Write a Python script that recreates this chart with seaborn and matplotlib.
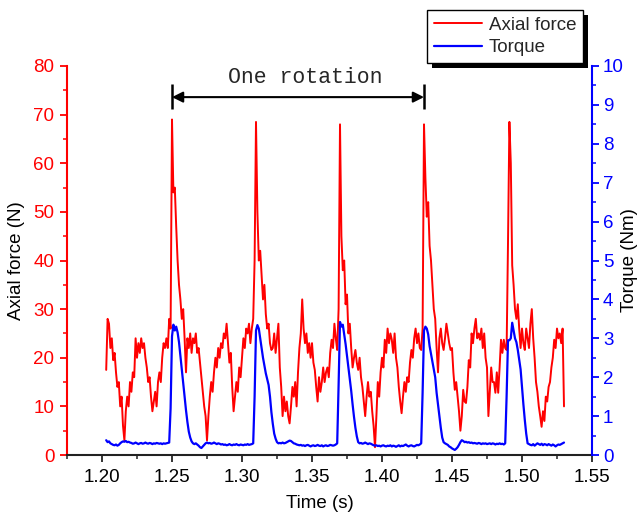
import numpy as np
import pandas as pd
import matplotlib
matplotlib.use("Agg")
import matplotlib.pyplot as plt
import seaborn as sns
from matplotlib.ticker import MultipleLocator, FormatStrFormatter
from matplotlib.patches import Rectangle

# ---------------- data ----------------
t_start = 1.203   # s, first sample
dt = 0.001        # s, sample spacing

axial_force = [
    17.5, 28, 27, 22, 24, 19.5, 21,
    17, 14, 15, 10, 12, 6, 3, 9, 12, 10,
    15, 13, 17, 16, 24, 20, 23, 21, 24, 22,
    23, 20, 18, 15, 16, 12, 9, 11, 13, 10,
    15, 17, 15, 20, 23, 22, 24, 22, 28, 26,
    69, 54, 55, 47, 40, 35, 32, 28, 30, 24,
    17, 24, 22, 25, 21, 24, 23, 25, 21, 22,
    19, 16, 13, 10, 8, 3, 8, 12, 15, 13,
    17, 20, 18, 22, 20, 23, 22, 25, 24, 27,
    23, 19, 21, 14, 9, 12, 15, 13, 18, 16,
    20, 24, 22, 26, 25, 27, 23, 26, 28, 40,
    68.5, 50, 40, 42, 37, 32, 35, 29, 26, 27,
    23, 21.6, 22, 25, 21, 24, 27, 18, 14, 8,
    12, 9, 11, 8, 6.5, 10, 14, 12, 15, 10,
    17, 22, 25, 32, 26, 23, 25, 21, 23, 20,
    23, 19, 17.5, 14, 11, 16, 13, 15, 18, 15,
    17, 18, 16, 21, 23.7, 22, 27, 24, 21.6, 30,
    68, 45, 38, 40, 31, 33, 25, 27, 22, 18,
    20, 21.6, 19, 17.5, 20, 16, 14, 11, 8, 12,
    15, 12, 13, 9, 6, 1.6, 8, 15, 12, 17,
    20, 18, 23.7, 21, 26, 23, 25, 23.7, 21, 25,
    20, 18, 14, 11, 8.6, 12, 15, 13, 16, 15,
    19, 21.6, 20, 24, 26, 23, 25, 22, 21.6, 26,
    68, 57, 49, 52, 43, 40, 35, 30, 28, 22,
    17, 24, 26, 23, 21.6, 24, 27, 25, 23, 21.6,
    22, 17, 13.4, 15, 12, 9, 5, 8, 13.4, 11,
    10.7, 14, 19.5, 18, 25, 23, 26, 28, 24, 25,
    23.7, 26, 22, 25, 20, 18, 8, 13, 18, 15,
    15, 12.8, 17, 12.8, 18, 23.7, 21, 23.7, 22, 21.6,
    43.6, 68.5, 60, 39, 35, 30, 28, 31, 26, 22,
    26, 23, 21.6, 26, 24, 22, 27, 30, 24, 20,
    15, 13, 10, 8, 5.8, 9, 7, 12, 11, 14,
    15, 18, 20, 23.7, 22, 26, 24, 25, 23, 26, 10,
]

torque = [
    0.38, 0.33, 0.35, 0.30, 0.28, 0.26, 0.25,
    0.27, 0.24, 0.26, 0.30, 0.33, 0.35, 0.34, 0.36, 0.33, 0.34,
    0.32, 0.31, 0.29, 0.30, 0.32, 0.30, 0.28, 0.30, 0.31, 0.29,
    0.30, 0.32, 0.30, 0.29, 0.31, 0.30, 0.28, 0.30, 0.29, 0.31,
    0.30, 0.29, 0.30, 0.28, 0.30, 0.29, 0.30, 0.31, 0.32, 1.20,
    3.05, 3.35, 3.20, 3.30, 3.15, 2.90, 2.55, 2.20, 1.85, 1.50,
    1.15, 0.85, 0.60, 0.45, 0.35, 0.30, 0.28, 0.30, 0.27, 0.24,
    0.20, 0.18, 0.22, 0.26, 0.30, 0.32, 0.30, 0.31, 0.29, 0.30,
    0.32, 0.30, 0.28, 0.30, 0.29, 0.27, 0.28, 0.26, 0.27, 0.25,
    0.26, 0.28, 0.26, 0.25, 0.27, 0.26, 0.28, 0.26, 0.25, 0.27,
    0.26, 0.25, 0.27, 0.26, 0.28, 0.26, 0.27, 0.28, 0.30, 1.50,
    3.20, 3.34, 3.25, 3.00, 2.75, 2.50, 2.30, 2.10, 1.95, 1.80,
    1.50, 1.10, 0.80, 0.55, 0.42, 0.33, 0.30, 0.31, 0.30, 0.32,
    0.30, 0.31, 0.33, 0.35, 0.37, 0.36, 0.33, 0.30, 0.29, 0.27,
    0.26, 0.25, 0.26, 0.24, 0.25, 0.23, 0.25, 0.26, 0.24, 0.22,
    0.24, 0.25, 0.23, 0.24, 0.26, 0.24, 0.23, 0.25, 0.22, 0.24,
    0.25, 0.23, 0.24, 0.26, 0.25, 0.24, 0.25, 0.27, 0.30, 1.80,
    3.42, 3.30, 3.35, 3.10, 2.85, 2.55, 2.27, 1.95, 1.65, 1.30,
    0.98, 0.70, 0.48, 0.33, 0.30, 0.31, 0.29, 0.30, 0.32, 0.30,
    0.28, 0.30, 0.29, 0.27, 0.25, 0.24, 0.25, 0.23, 0.24, 0.22,
    0.24, 0.25, 0.23, 0.22, 0.24, 0.23, 0.25, 0.22, 0.24, 0.23,
    0.21, 0.23, 0.25, 0.22, 0.24, 0.23, 0.25, 0.27, 0.24, 0.22,
    0.24, 0.25, 0.23, 0.22, 0.24, 0.26, 0.25, 0.27, 0.30, 1.60,
    3.20, 3.30, 3.25, 3.10, 2.80, 2.60, 2.40, 2.20, 2.00, 1.60,
    1.30, 0.98, 0.70, 0.45, 0.33, 0.30, 0.28, 0.26, 0.22, 0.20,
    0.17, 0.15, 0.13, 0.16, 0.20, 0.26, 0.33, 0.38, 0.36, 0.33,
    0.34, 0.32, 0.33, 0.31, 0.32, 0.30, 0.31, 0.30, 0.29, 0.31,
    0.30, 0.28, 0.30, 0.29, 0.30, 0.28, 0.29, 0.30, 0.28, 0.30,
    0.29, 0.27, 0.29, 0.28, 0.30, 0.28, 0.29, 0.27, 0.30, 1.50,
    2.95, 2.95, 3.00, 3.40, 3.20, 3.00, 2.90, 2.70, 2.45, 2.20,
    1.75, 1.30, 0.90, 0.55, 0.30, 0.28, 0.26, 0.25, 0.28, 0.24,
    0.27, 0.30, 0.28, 0.26, 0.29, 0.25, 0.28, 0.27, 0.25, 0.28,
    0.26, 0.24, 0.27, 0.25, 0.22, 0.25, 0.27, 0.26, 0.28, 0.30, 0.32,
]

series_names = ["Axial force", "Torque"]
rotation_start = 1.25
rotation_end = 1.43
rotation_label = "One rotation"
x_ticks = [1.20, 1.25, 1.30, 1.35, 1.40, 1.45, 1.50, 1.55]

df_force = pd.DataFrame({"Time": t_start + dt * np.arange(len(axial_force)),
                         "Force": axial_force})
df_torque = pd.DataFrame({"Time": t_start + dt * np.arange(len(torque)),
                          "Torque": torque})

# ---------------- style ----------------
sns.set_style("ticks")
plt.rcParams["font.family"] = ["Liberation Sans", "DejaVu Sans"]

RED = "#ff0000"
BLUE = "#0000ff"
FS = 13.5

W, H = 641, 515
fig = plt.figure(figsize=(W / 100, H / 100), dpi=100)
ax = fig.add_axes([67 / W, 1 - 455 / H, (592 - 67) / W, (455 - 66) / H])
ax2 = ax.twinx()
ax.patch.set_visible(False)
ax2.patch.set_visible(False)

sns.lineplot(data=df_force, x="Time", y="Force", ax=ax, color=RED, lw=1.4,
             estimator=None, sort=False, legend=False)
sns.lineplot(data=df_torque, x="Time", y="Torque", ax=ax2, color=BLUE, lw=1.6,
             estimator=None, sort=False, legend=False)

ax.set_xlim(1.175, 1.55)
ax.set_ylim(0, 80)
ax2.set_ylim(0, 10)

ax.set_xticks(x_ticks)
ax.xaxis.set_minor_locator(MultipleLocator(0.025))
ax.xaxis.set_major_formatter(FormatStrFormatter("%.2f"))
ax.yaxis.set_major_locator(MultipleLocator(10))
ax.yaxis.set_minor_locator(MultipleLocator(5))
ax2.yaxis.set_major_locator(MultipleLocator(1))
ax2.yaxis.set_minor_locator(MultipleLocator(0.5))

# spines
for s in ["top", "right"]:
    ax.spines[s].set_visible(False)
for s in ["top", "left", "bottom"]:
    ax2.spines[s].set_visible(False)
ax.spines["left"].set_color(RED)
ax.spines["left"].set_linewidth(1.5)
ax.spines["bottom"].set_color("#222222")
ax.spines["bottom"].set_linewidth(1.5)
ax2.spines["right"].set_color(BLUE)
ax2.spines["right"].set_linewidth(1.5)

ax.tick_params(axis="y", which="major", colors=RED, direction="out", length=5,
               width=1.3, labelsize=FS, pad=4)
ax.tick_params(axis="y", which="minor", colors=RED, direction="out", length=3, width=1.1)
ax.tick_params(axis="x", which="major", colors="#222222", direction="out", length=5,
               width=1.3, labelsize=FS, pad=5, labelcolor="black")
ax.tick_params(axis="x", which="minor", colors="#222222", direction="out", length=3, width=1.1)
ax2.tick_params(axis="y", which="major", colors=BLUE, direction="out", length=5,
                width=1.3, labelsize=FS, pad=3)
ax2.tick_params(axis="y", which="minor", colors=BLUE, direction="out", length=3, width=1.1)

ax.set_xlabel("Time (s)", fontsize=FS, color="black")
ax.set_ylabel("Axial force (N)", fontsize=FS, color="black")
ax2.set_ylabel("Torque (Nm)", fontsize=FS, color="black", rotation=90)
ax.xaxis.set_label_coords((320 - 67) / 525, (455 - 503) / 389)
ax.yaxis.set_label_coords((17 - 67) / 525, 0.5)
ax2.yaxis.set_label_coords((630 - 67) / 525, 0.5)
ax.xaxis.label.set_va("center")
ax.yaxis.label.set_va("center")
ax2.yaxis.label.set_va("center")

# ---------------- one-rotation annotation ----------------
y_arrow = 73.6
ax.annotate("", xy=(rotation_start, y_arrow), xytext=(rotation_end, y_arrow),
            arrowprops=dict(arrowstyle="<|-|>", color="black", lw=1.5,
                            mutation_scale=16, shrinkA=0, shrinkB=0),
            annotation_clip=False)
ax.vlines([rotation_start, rotation_end], 71.2, 76.4, color="black", lw=1.8,
          clip_on=False)
ax.text((rotation_start + rotation_end) / 2 + 0.005, 77.6, rotation_label,
        family=["Liberation Mono", "DejaVu Sans Mono"], fontsize=15.5,
        ha="center", va="center", clip_on=False)

# ---------------- legend with hard shadow ----------------
handles = [ax.lines[0], ax2.lines[0]]
leg = ax2.legend(handles, series_names, loc="upper right",
                 bbox_to_anchor=(583 / W, 1 - 10 / H), bbox_transform=fig.transFigure,
                 frameon=True, fancybox=False, framealpha=1, edgecolor="black",
                 fontsize=13.5, handlelength=2.6, handletextpad=0.35,
                 borderpad=0.35, labelspacing=0.3, borderaxespad=0)
leg.get_frame().set_linewidth(1.0)
fig.canvas.draw()
bb = leg.get_window_extent()
shadow = Rectangle((bb.x0 + 5, bb.y0 - 5), bb.width, bb.height,
                   transform=None, facecolor="black", edgecolor="none", zorder=-1)
fig.patches.append(shadow)

fig.savefig("out.png", dpi=100, facecolor="white")
